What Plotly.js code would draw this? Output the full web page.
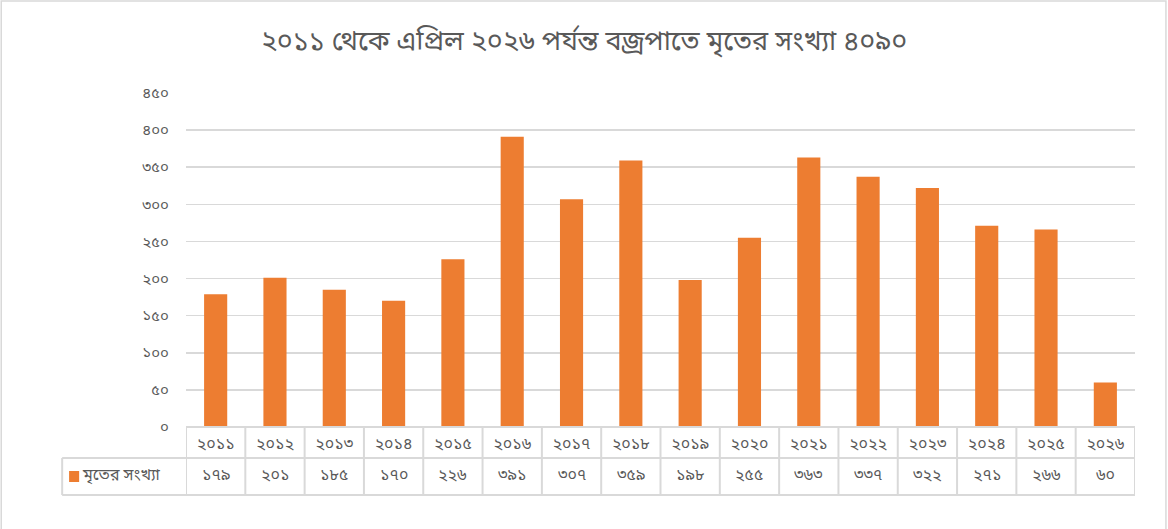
<!DOCTYPE html>
<html>
<head>
<meta charset="utf-8">
<script src="https://cdn.plot.ly/plotly-3.0.1.min.js"></script>
<style>
  html, body { margin: 0; padding: 0; background: #fff; }
  #chart { width: 1168px; height: 529px; }
</style>
</head>
<body>
<div id="chart"></div>
<script>
    // data
    var years = ['2011', '2012', '2013', '2014', '2015', '2016', '2017', '2018',
                 '2019', '2020', '2021', '2022', '2023', '2024', '2025', '2026'];
    var yearLabels = ['২০১১', '২০১২', '২০১৩', '২০১৪', '২০১৫', '২০১৬', '২০১৭', '২০১৮',
                      '২০১৯', '২০২০', '২০২১', '২০২২', '২০২৩', '২০২৪', '২০২৫', '২০২৬'];
    var deaths = [179, 201, 185, 170, 226, 391, 307, 359, 198, 255, 363, 337, 322, 271, 266, 60];
    var deathLabels = ['১৭৯', '২০১', '১৮৫', '১৭০', '২২৬', '৩৯১', '৩০৭', '৩৫৯',
                       '১৯৮', '২৫৫', '৩৬৩', '৩৩৭', '৩২২', '২৭১', '২৬৬', '৬০'];
    var yTickVals = [0, 50, 100, 150, 200, 250, 300, 350, 400, 450];
    var yTickText = ['০', '৫০', '১০০', '১৫০', '২০০', '২৫০', '৩০০', '৩৫০', '৪০০', '৪৫০'];
    var seriesName = 'মৃতের সংখ্যা';
    var titleText = '২০১১ থেকে এপ্রিল ২০২৬ পর্যন্ত বজ্রপাতে মৃতের সংখ্যা ৪০৯০';

    var font = '"Noto Sans Bengali", "Noto Serif Bengali", "Lohit Bengali", "Noto Sans", sans-serif';
    var grey = '#595959';
    var lineCol = '#d9d9d9';
    var orange = '#ed7d31';

    var trace = {
        x: years,
        y: deaths,
        type: 'bar',
        name: seriesName,
        marker: {color: orange},
        hoverinfo: 'x+y',
        showlegend: false
    };

    // data table under the axis (rows in paper units)
    var rowMid = -0.0928;
    var rowBot = -0.2036;
    var legLeft = -0.1305;
    var rowCentre = (rowMid + rowBot) / 2;

    var shapes = [];
    for (var i = 0; i <= years.length; i++) {
        shapes.push({
            type: 'line', xref: 'x', yref: 'paper',
            x0: i - 0.5, x1: i - 0.5, y0: 0, y1: rowBot,
            line: {color: lineCol, width: 2}
        });
    }
    shapes.push({type: 'line', xref: 'paper', yref: 'paper', x0: 0, x1: 1,
                 y0: 0, y1: 0, line: {color: lineCol, width: 2}});
    shapes.push({type: 'line', xref: 'paper', yref: 'paper', x0: legLeft, x1: 1,
                 y0: rowMid, y1: rowMid, line: {color: lineCol, width: 2}});
    shapes.push({type: 'line', xref: 'paper', yref: 'paper', x0: legLeft, x1: 1,
                 y0: rowBot, y1: rowBot, line: {color: lineCol, width: 2}});
    shapes.push({type: 'line', xref: 'paper', yref: 'paper', x0: legLeft, x1: legLeft,
                 y0: rowMid, y1: rowBot, line: {color: lineCol, width: 2}});
    // legend key square
    shapes.push({type: 'rect', xref: 'paper', yref: 'paper',
                 x0: -0.1232, x1: -0.1126, y0: -0.1317, y1: -0.1647,
                 fillcolor: orange, line: {width: 0}});
    // chart frame (bottom edge falls just off the picture)
    shapes.push({type: 'rect', xref: 'paper', yref: 'paper',
                 x0: -0.1947, x1: 1.0326, y0: 1.2754, y1: -0.312,
                 line: {color: lineCol, width: 1.5}, layer: 'below'});

    var annotations = [];
    for (var j = 0; j < years.length; j++) {
        annotations.push({
            x: j, xref: 'x', y: rowCentre, yref: 'paper', yanchor: 'middle',
            text: deathLabels[j], showarrow: false,
            font: {family: font, size: 16, color: grey}
        });
    }
    annotations.push({
        x: -0.1116, xref: 'paper', xanchor: 'left',
        y: rowCentre, yref: 'paper', yanchor: 'middle',
        text: seriesName, showarrow: false,
        font: {family: font, size: 16, color: grey}
    });

    var layout = {
        width: 1168,
        height: 529,
        paper_bgcolor: '#fff',
        plot_bgcolor: '#fff',
        margin: {t: 93, r: 33, l: 186, b: 102},
        showlegend: false,
        bargap: 0.61,
        font: {family: font, size: 15, color: grey},
        title: {
            text: titleText,
            x: 0.5, xref: 'container', xanchor: 'center',
            y: 0.924, yref: 'container', yanchor: 'middle',
            font: {family: font, size: 27, color: grey}
        },
        xaxis: {
            type: 'category',
            range: [-0.5, years.length - 0.5],
            ticktext: yearLabels,
            tickvals: years,
            ticks: '',
            showline: false,
            showgrid: false,
            zeroline: false,
            ticklabelstandoff: 5,
            tickfont: {family: font, size: 16, color: grey}
        },
        yaxis: {
            range: [0, 450],
            tickvals: yTickVals,
            ticktext: yTickText,
            showgrid: true,
            gridcolor: lineCol,
            gridwidth: 1.5,
            zeroline: false,
            showline: false,
            ticks: '',
            ticklabelstandoff: 16,
            tickfont: {family: font, size: 15, color: grey}
        },
        shapes: shapes,
        annotations: annotations
    };

    Plotly.newPlot('chart', [trace], layout, {displayModeBar: false, staticPlot: true});
</script>
</body>
</html>
